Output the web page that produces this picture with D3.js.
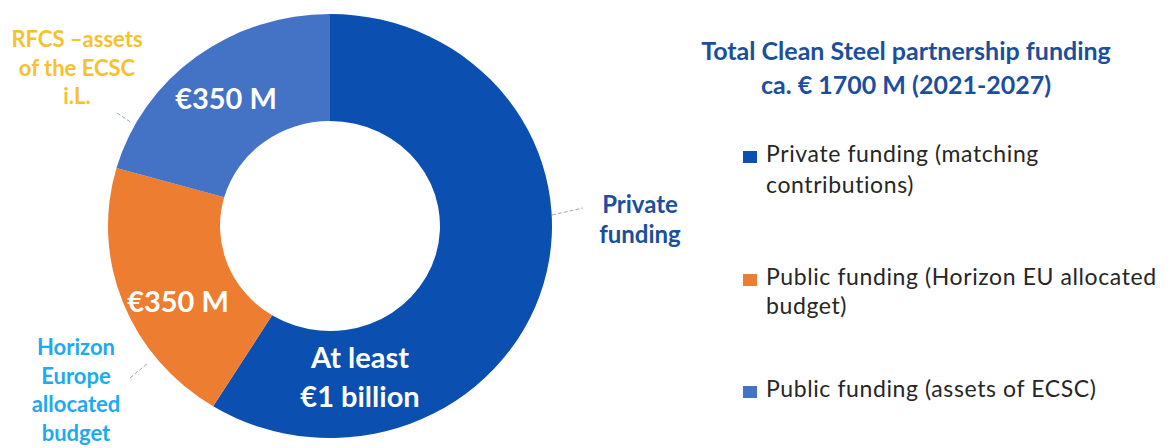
<!DOCTYPE html>
<html>
<head>
<meta charset="utf-8">
<script src="https://cdn.jsdelivr.net/npm/d3@7"></script>
<style>
  body { margin: 0; background: #fff; }
  svg { display: block; font-family: Lato, "Open Sans", sans-serif; }
</style>
</head>
<body>
<svg id="chart" width="1173" height="448"></svg>
<script>
// funding split, € M
const categories = ["Private funding", "Horizon Europe", "RFCS assets"];
const values = [1000, 350, 350];
const sliceLabels = [["At least", "€1 billion"], ["€350 M"], ["€350 M"]];
const colors = ["#0b50b0", "#ed7d31", "#4472c4"];

const outerNames = [
  { lines: ["Private", "funding"], color: "#1b4f9e" },
  { lines: ["Horizon", "Europe", "allocated", "budget"], color: "#1eaaee" },
  { lines: ["RFCS \u2013assets", "of the ECSC", "i.L."], color: "#f7c12e" }
];

const titleLines = ["Total Clean Steel partnership funding", "ca. \u20ac 1700 M (2021-2027)"];
const legendItems = [
  ["Private funding (matching", "contributions)"],
  ["Public funding (Horizon EU allocated", "budget)"],
  ["Public funding (assets of ECSC)"]
];

const svg = d3.select("#chart");
const cx = 330, cy = 226, rOuter = 222, rInner = 110;

const pie = d3.pie().sort(null).value(d => d);
const arc = d3.arc().innerRadius(rInner).outerRadius(rOuter);
const arcs = pie(values);

// ring is a touch squashed vertically in the original
const ring = svg.append("g").attr("transform", `translate(${cx},${cy}) scale(1,0.955)`);
ring.selectAll("path.slice")
  .data(arcs)
  .enter().append("path")
  .attr("class", "slice")
  .attr("d", arc)
  .attr("fill", (d, i) => colors[i]);

// labels inside the ring (centre x, first baseline)
const labelPos = [[360, 368], [178, 312], [226, 109]];
arcs.forEach((d, i) => {
  const t = svg.append("text")
    .attr("text-anchor", "middle")
    .attr("fill", "#fff")
    .attr("font-weight", "bold")
    .attr("font-size", 29);
  sliceLabels[i].forEach((ln, j) => {
    t.append("tspan")
      .attr("x", labelPos[i][0])
      .attr("y", labelPos[i][1] + j * 39)
      .text(ln);
  });
});

// outside names with leader lines
const namePos = [[640, 213], [76, 355], [77, 47]];
const nameSize = [24, 22, 22];
const nameStep = [30, 28.5, 28.5];
const leaders = [
  [[552, 215], [583, 208]],
  [[130, 378], [148, 363]],
  [[117, 113], [132, 123]]
];
outerNames.forEach((o, i) => {
  const t = svg.append("text")
    .attr("text-anchor", "middle")
    .attr("fill", o.color)
    .attr("font-weight", "bold")
    .attr("font-size", nameSize[i]);
  o.lines.forEach((ln, j) => {
    t.append("tspan")
      .attr("x", namePos[i][0])
      .attr("y", namePos[i][1] + j * nameStep[i])
      .text(ln);
  });
  svg.append("line")
    .attr("x1", leaders[i][0][0]).attr("y1", leaders[i][0][1])
    .attr("x2", leaders[i][1][0]).attr("y2", leaders[i][1][1])
    .attr("stroke", "#9aa6b8")
    .attr("stroke-width", 1)
    .attr("stroke-dasharray", "4,2");
});

// title
const title = svg.append("text")
  .attr("text-anchor", "middle")
  .attr("fill", "#1b4f9e")
  .attr("font-weight", "bold")
  .attr("font-size", 25);
titleLines.forEach((ln, j) => {
  title.append("tspan").attr("x", 906).attr("y", 60 + j * 34).text(ln);
});

// legend
const legendY = [162, 285, 397];
const legendStep = [31, 29, 0];
const legend = svg.append("g");
legendItems.forEach((lines, i) => {
  legend.append("rect")
    .attr("x", 743).attr("y", legendY[i] - 11)
    .attr("width", 14).attr("height", 12)
    .attr("fill", colors[i]);
  const t = legend.append("text")
    .attr("fill", "#262626")
    .attr("font-size", 23)
    .attr("letter-spacing", 0.6);
  lines.forEach((ln, j) => {
    t.append("tspan").attr("x", 766).attr("y", legendY[i] + j * legendStep[i]).text(ln);
  });
});
</script>
</body>
</html>
